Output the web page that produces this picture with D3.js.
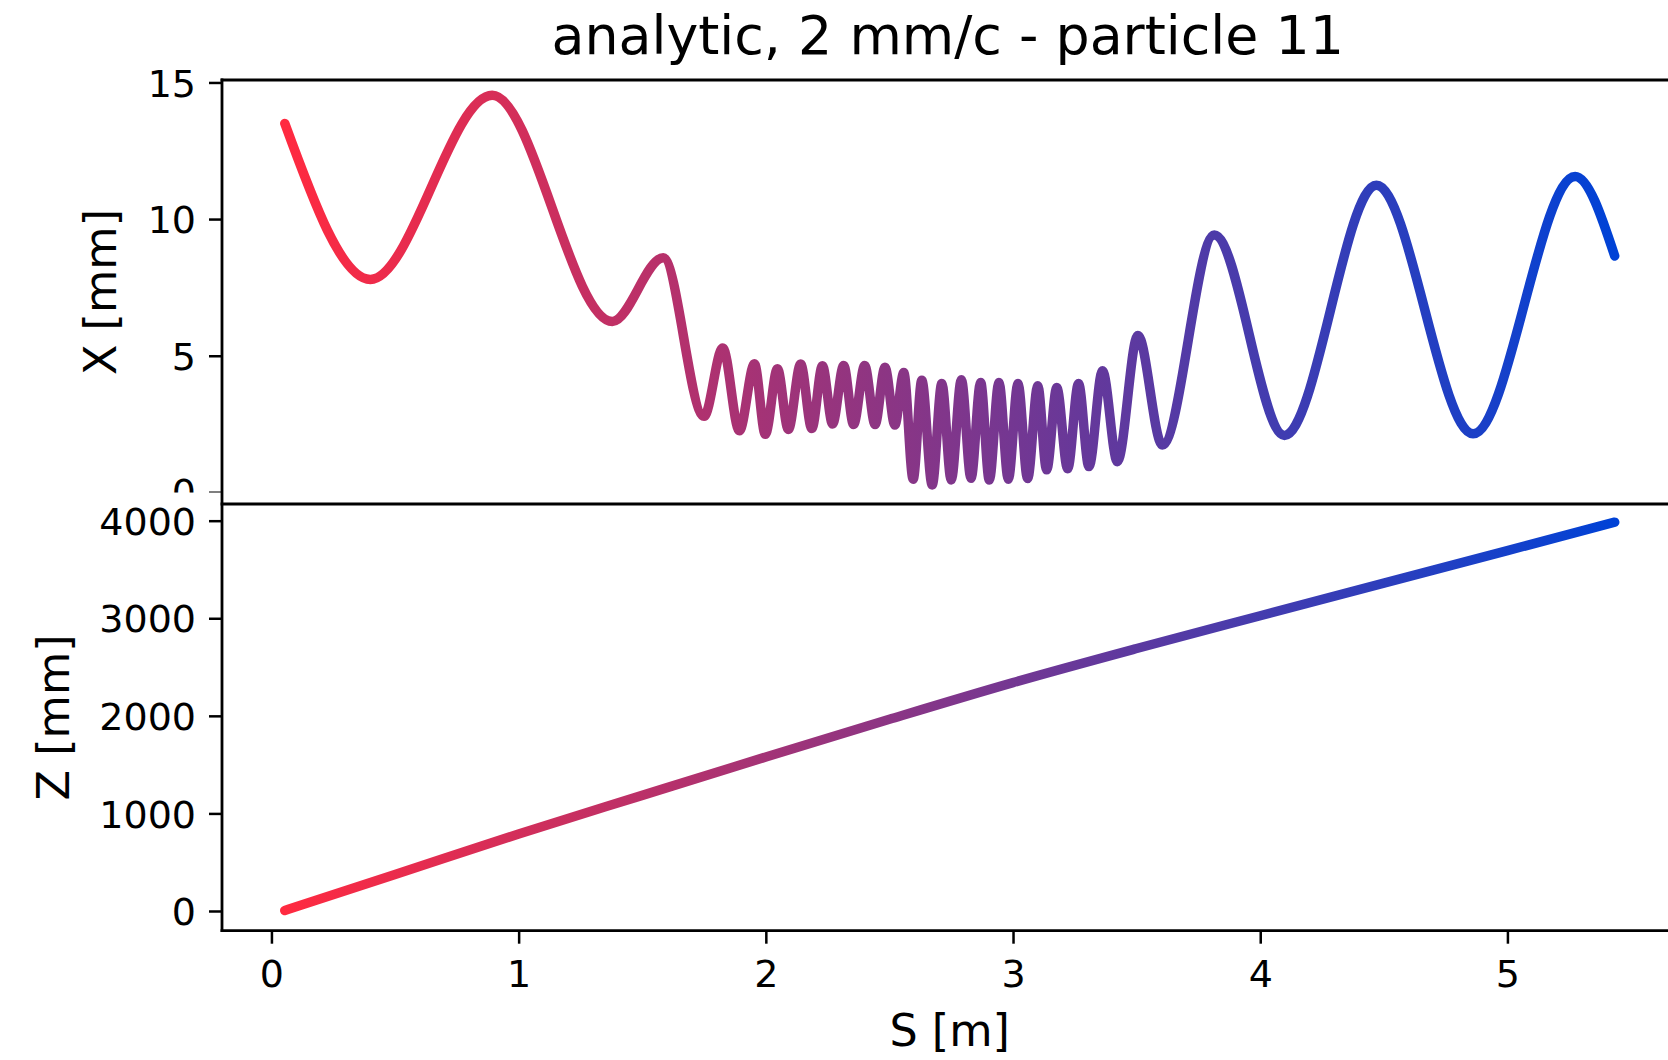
<!DOCTYPE html>
<html>
<head>
<meta charset="utf-8">
<script src="https://cdn.jsdelivr.net/npm/d3@7"></script>
<style>
  body { margin: 0; background: #fff; }
  text { font-family: "DejaVu Sans", sans-serif; fill: #000; }
</style>
</head>
<body>
<div id="chart"></div>
<script>
// X(s) trajectory at turning points
const sX = [0.054, 0.40, 0.893, 1.379, 1.585, 1.750, 1.826, 1.893, 1.954, 1.998,
  2.047, 2.091, 2.141, 2.186, 2.229, 2.270, 2.315, 2.355, 2.400, 2.442,
  2.482, 2.522, 2.558, 2.596, 2.631, 2.673, 2.712, 2.750, 2.791, 2.830,
  2.869, 2.904, 2.943, 2.981, 3.020, 3.059, 3.100, 3.136, 3.177, 3.221,
  3.265, 3.307, 3.362, 3.422, 3.505, 3.604, 3.814, 4.098, 4.470, 4.861,
  5.274, 5.434];
const xVals = [13.5, 7.79, 14.53, 6.25, 8.58, 2.78, 5.28, 2.25, 4.70, 2.12,
  4.52, 2.30, 4.69, 2.33, 4.63, 2.50, 4.64, 2.48, 4.64, 2.48,
  4.58, 2.46, 4.38, 0.48, 4.10, 0.27, 3.98, 0.45, 4.12, 0.51,
  4.02, 0.45, 4.02, 0.48, 3.98, 0.50, 3.90, 0.82, 3.83, 0.86,
  3.98, 0.94, 4.45, 1.12, 5.74, 1.73, 9.42, 2.08, 11.24, 2.14,
  11.56, 8.65];

// Z(s)
const sZ = [0.054, 0.5, 1.0, 1.5, 2.0, 2.5, 3.0, 3.5, 4.0, 4.5, 5.0, 5.434];
const zVals = [5, 373, 790, 1185, 1578, 1965, 2341, 2690, 3026, 3360, 3693, 3985];

const sTicks = [0, 1, 2, 3, 4, 5];
const xTicks = [0, 5, 10, 15];
const zTicks = [0, 1000, 2000, 3000, 4000];

const title = "analytic, 2 mm/c - particle 11";
const colStart = "#ff2a40", colEnd = "#0042d6";

const W = 1668, H = 1060;
const left = 222, right = 1685.4;
const top1 = 80, mid = 504, bot2 = 930.7;

var svg = d3.select("#chart").append("svg")
  .attr("width", W).attr("height", H);
svg.append("rect").attr("width", W).attr("height", H).attr("fill", "#fff");

var sx = d3.scaleLinear().domain([-0.2, 5.72]).range([left, right]);
var yX = d3.scaleLinear().domain([-0.43, 15.09]).range([mid, top1]);
var yZ = d3.scaleLinear().domain([-202, 4171]).range([bot2, mid]);

// colour runs red -> blue along the track
var defs = svg.append("defs");
var grad = defs.append("linearGradient").attr("id", "track")
  .attr("gradientUnits", "userSpaceOnUse")
  .attr("x1", sx(sX[0])).attr("x2", sx(sX[sX.length - 1]))
  .attr("y1", 0).attr("y2", 0);
var interp = d3.interpolateRgb(colStart, colEnd);
d3.range(11).forEach(function(i) {
  grad.append("stop").attr("offset", i / 10).attr("stop-color", interp(i / 10));
});
// the upper panel's lowest tick label is cut off in the original
defs.append("clipPath").attr("id", "cut")
  .append("rect").attr("x", -400).attr("y", 0).attr("width", 800).attr("height", 492.6);

// upper panel: X
var lineX = d3.line()
  .x(function(d, i) { return sx(sX[i]); })
  .y(function(d) { return yX(d); })
  .curve(d3.curveMonotoneX);
svg.append("path")
  .attr("d", lineX(xVals))
  .attr("fill", "none")
  .attr("stroke", "url(#track)")
  .attr("stroke-width", 9.5)
  .attr("stroke-linecap", "round")
  .attr("stroke-linejoin", "round");

// lower panel: Z
var lineZ = d3.line()
  .x(function(d, i) { return sx(sZ[i]); })
  .y(function(d) { return yZ(d); })
  .curve(d3.curveMonotoneX);
svg.append("path")
  .attr("d", lineZ(zVals))
  .attr("fill", "none")
  .attr("stroke", "url(#track)")
  .attr("stroke-width", 9.5)
  .attr("stroke-linecap", "round");

// axes
function styleAxis(g, size) {
  g.select(".domain").remove();
  g.selectAll(".tick line").attr("stroke", "#000").attr("stroke-width", 2.5);
  g.selectAll(".tick text").style("font-size", size + "px").attr("fill", "#000");
}

var fmt = d3.format("d");

var gX = svg.append("g")
  .attr("clip-path", "url(#cut)")
  .attr("transform", "translate(" + left + ",0)")
  .call(d3.axisLeft(yX).tickValues(xTicks).tickFormat(fmt).tickSize(13).tickPadding(13));
styleAxis(gX, 38);
gX.selectAll(".tick text").attr("dy", "0.36em");

var gZ = svg.append("g")
  .attr("transform", "translate(" + left + ",0)")
  .call(d3.axisLeft(yZ).tickValues(zTicks).tickFormat(fmt).tickSize(13).tickPadding(13));
styleAxis(gZ, 38);
gZ.selectAll(".tick text").attr("dy", "0.36em");

var gS = svg.append("g")
  .attr("transform", "translate(0," + bot2 + ")")
  .call(d3.axisBottom(sx).tickValues(sTicks).tickFormat(fmt).tickSize(13).tickPadding(16));
styleAxis(gS, 38);

// spines
var spines = [
  [left, top1, right, top1],
  [left, mid, right, mid],
  [left, bot2, right, bot2],
  [left, top1, left, bot2],
  [right, top1, right, bot2]
];
svg.selectAll(".spine").data(spines).enter().append("line")
  .attr("class", "spine")
  .attr("x1", function(d) { return d[0]; })
  .attr("y1", function(d) { return d[1]; })
  .attr("x2", function(d) { return d[2]; })
  .attr("y2", function(d) { return d[3]; })
  .attr("stroke", "#000")
  .attr("stroke-width", 2.8)
  .attr("stroke-linecap", "square");

// labels
svg.append("text")
  .attr("x", (left + right) / 2 - 6).attr("y", 54)
  .attr("text-anchor", "middle")
  .style("font-size", "53.8px")
  .text(title);

svg.append("text")
  .attr("transform", "translate(116," + (top1 + mid) / 2 + ") rotate(-90)")
  .attr("text-anchor", "middle")
  .style("font-size", "44.5px")
  .text("X [mm]");

svg.append("text")
  .attr("transform", "translate(69," + (mid + bot2) / 2 + ") rotate(-90)")
  .attr("text-anchor", "middle")
  .style("font-size", "44.5px")
  .text("Z [mm]");

svg.append("text")
  .attr("x", (left + right) / 2 - 4).attr("y", 1046)
  .attr("text-anchor", "middle")
  .style("font-size", "44.5px")
  .text("S [m]");
</script>
</body>
</html>
